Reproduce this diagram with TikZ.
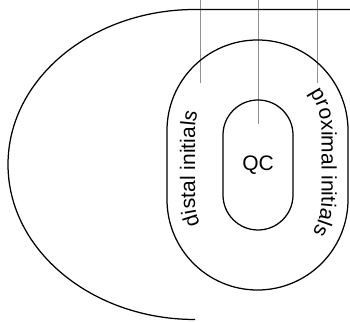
\documentclass[tikz,border=0pt]{standalone}
\usepackage{fontspec}
\setmainfont{Liberation Sans}
\usetikzlibrary{decorations.text}
\definecolor{leadgray}{RGB}{145,145,145}
\tikzset{
  outline/.style={draw=black, line width=1.25pt},
  stadium/.style={outline, rectangle, inner sep=0pt, outer sep=0pt},
  leader/.style={draw=leadgray, line width=1pt},
  arclabel/.style={decorate, decoration={text along path, text align=center, text={#1}}}
}
\begin{document}
\begin{tikzpicture}[x=1pt, y=1pt]
\useasboundingbox (0,0) rectangle (350,321);
% leader lines
\coordinate (t1) at (200,321); \coordinate (e1) at (200,238);
\coordinate (t2) at (258,321); \coordinate (e2) at (258,197);
\coordinate (t3) at (317,321); \coordinate (e3) at (317,238);
\draw[leader] (t1) -- (e1);
\draw[leader] (t2) -- (e2);
\draw[leader] (t3) -- (e3);
% outer half ellipse with top line
\draw[outline] (350,311.5) -- (195,311.5) arc[start angle=90, end angle=270, x radius=187, y radius=155];
% middle stadium
\node[stadium, minimum width=181pt, minimum height=250pt, rounded corners=90.5pt] (mid) at (257.5,156) {};
% QC stadium
\node[stadium, minimum width=70pt, minimum height=130pt, rounded corners=35pt, font=\fontsize{21}{25}\selectfont] (qc) at (258,156) {\raisebox{-2.5pt}{QC}};
% curved labels
\path[arclabel={|\fontsize{21}{25}\selectfont|distal initials}]
  ([shift={(246:62.5)}]257.5,121.5) arc[start angle=246, end angle=180, radius=62.5]
  -- ++(0,69) arc[start angle=180, end angle=120, radius=62.5];
\path[arclabel={|\fontsize{21}{25}\selectfont|proximal initials}]
  ([shift={(65:64)}]257.5,190.5) arc[start angle=65, end angle=0, radius=64]
  -- ++(0,-69) arc[start angle=0, end angle=-60, radius=64];
\end{tikzpicture}
\end{document}
